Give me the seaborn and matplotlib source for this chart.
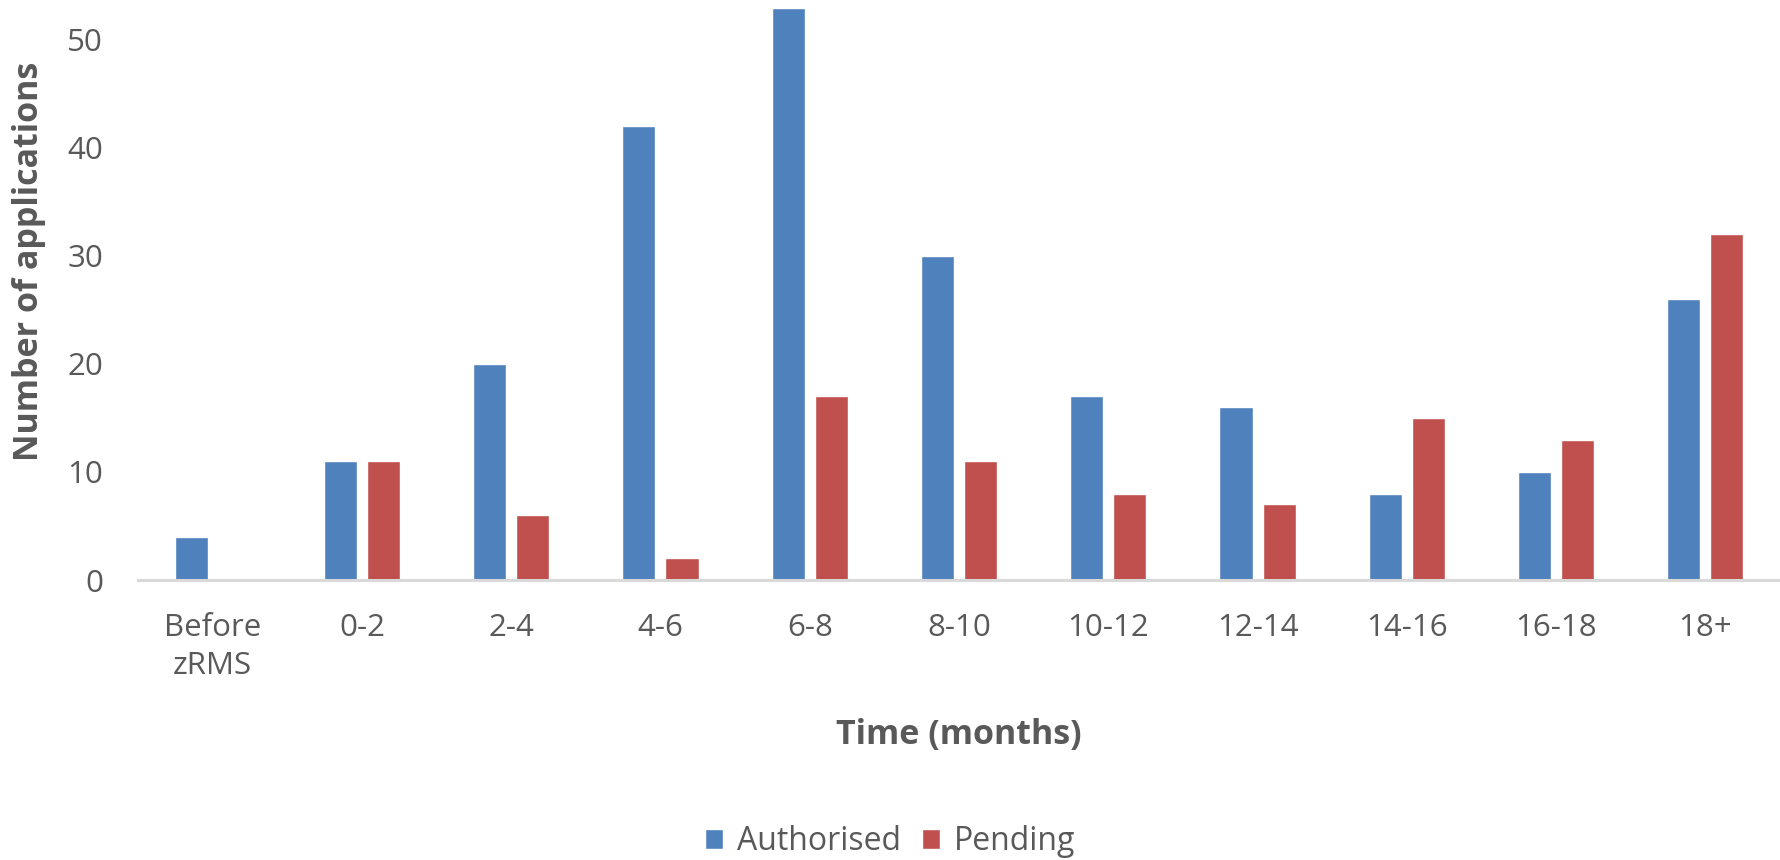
import matplotlib
matplotlib.use("Agg")
import matplotlib.pyplot as plt
import seaborn as sns
import pandas as pd

categories = ["Before\nzRMS", "0-2", "2-4", "4-6", "6-8", "8-10", "10-12",
              "12-14", "14-16", "16-18", "18+"]
authorised = [4, 11, 20, 42, 53, 30, 17, 16, 8, 10, 26]
pending = [0, 11, 6, 2, 17, 11, 8, 7, 15, 13, 32]
series_names = ["Authorised", "Pending"]
y_ticks = [0, 10, 20, 30, 40, 50]

df = pd.DataFrame({
    "Time": categories * 2,
    "Count": authorised + pending,
    "Status": [series_names[0]] * len(categories) + [series_names[1]] * len(categories),
})

sns.set_theme(style="white")
plt.rcParams["font.family"] = ["Open Sans", "DejaVu Sans"]
TXT = "#595959"

W, H = 1781, 860
fig = plt.figure(figsize=(W / 100, H / 100), dpi=100)
ax = fig.add_axes([138 / W, (H - 580) / H, (1780 - 138) / W, 580 / H])

sns.barplot(data=df, x="Time", y="Count", hue="Status", order=categories,
            hue_order=series_names, palette=["#4F81BD", "#C0504D"],
            saturation=1, width=0.577, gap=0.233, ax=ax, legend=True)

ax.set_xlim(-0.5, len(categories) - 0.5)
ax.set_ylim(0, 53.7)
ax.set_yticks(y_ticks)
for s in ["top", "right", "left"]:
    ax.spines[s].set_visible(False)
ax.spines["bottom"].set_color("#D9D9D9")
ax.spines["bottom"].set_linewidth(2.2)
ax.tick_params(axis="both", length=0, labelsize=22.5, labelcolor=TXT)
ax.tick_params(axis="x", pad=24)
ax.tick_params(axis="y", pad=25)
for lab in ax.get_xticklabels():
    lab.set_linespacing(1.35)

ax.set_xlabel("Time (months)", fontsize=24.5, fontweight="bold", color=TXT)
ax.xaxis.label.set_va("center")
ax.xaxis.set_label_coords(0.5, (580 - 735) / 580)
ax.set_ylabel("Number of applications", fontsize=24.5, fontweight="bold", color=TXT)
ax.yaxis.label.set_va("center")
ax.yaxis.set_label_coords((29 - 138) / 1642, (580 - 261) / 580)

leg = ax.legend(loc="center", bbox_to_anchor=(890 / W, 1 - 842 / H),
                bbox_transform=fig.transFigure, ncol=2, frameon=False,
                fontsize=23, handlelength=0.56, handleheight=0.56,
                handletextpad=0.45, columnspacing=0.65, borderaxespad=0)
for t in leg.get_texts():
    t.set_color(TXT)

fig.savefig("out.png", dpi=100)
